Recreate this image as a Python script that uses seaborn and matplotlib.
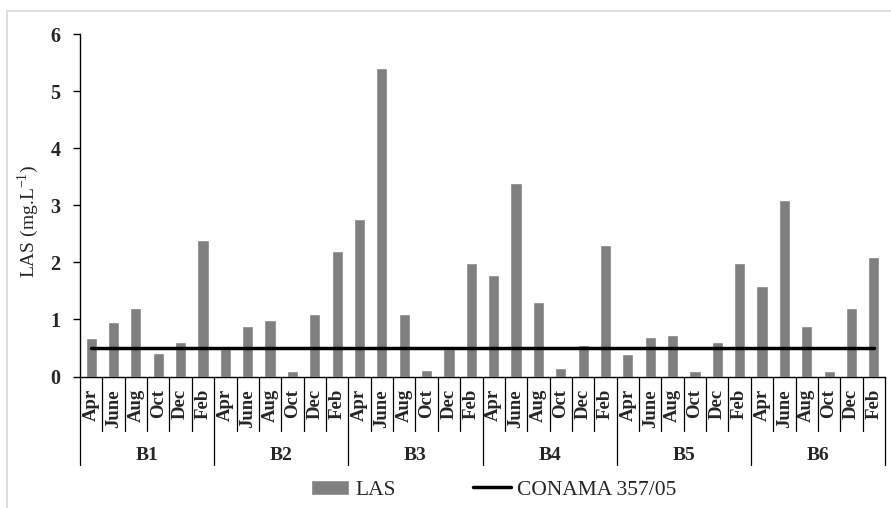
import matplotlib
matplotlib.use("Agg")
import matplotlib.pyplot as plt
from matplotlib.lines import Line2D
import seaborn as sns
import pandas as pd
import numpy as np

# ---------------- data ----------------
sites = ["B1", "B2", "B3", "B4", "B5", "B6"]
months = ["Apr", "June", "Aug", "Oct", "Dec", "Feb"]
las_b1 = [0.67, 0.95, 1.20, 0.41, 0.61, 2.39]
las_b2 = [0.48, 0.89, 0.99, 0.10, 1.10, 2.20]
las_b3 = [2.76, 5.40, 1.09, 0.12, 0.48, 1.99]
las_b4 = [1.78, 3.39, 1.30, 0.15, 0.55, 2.30]
las_b5 = [0.40, 0.70, 0.72, 0.10, 0.60, 1.99]
las_b6 = [1.59, 3.10, 0.89, 0.10, 1.20, 2.09]
conama_limit = 0.5
y_ticks = [0, 1, 2, 3, 4, 5, 6]

series = [las_b1, las_b2, las_b3, las_b4, las_b5, las_b6]
rows = []
for s, vals in zip(sites, series):
    for m, v in zip(months, vals):
        rows.append({"site": s, "month": m, "cat": f"{s} {m}", "LAS": v,
                     "CONAMA": conama_limit})
df = pd.DataFrame(rows)

# ---------------- style ----------------
sns.set_theme(style="white")
plt.rcParams["font.family"] = ["Liberation Serif", "DejaVu Serif"]
plt.rcParams["mathtext.fontset"] = "custom"
plt.rcParams["mathtext.rm"] = "Liberation Serif"

W, H = 891, 508
fig = plt.figure(figsize=(W / 100, H / 100), dpi=100)
ax_left, ax_right, ax_top, ax_bot = 80, 885, 34, 376.5
ax = fig.add_axes([ax_left / W, 1 - ax_bot / H, (ax_right - ax_left) / W,
                   (ax_bot - ax_top) / H])
ax_h = ax_bot - ax_top

sns.barplot(data=df, x="cat", y="LAS", color="#808080", width=0.5,
            saturation=1, ax=ax, label="LAS", zorder=2)
sns.lineplot(data=df, x="cat", y="CONAMA", color="black", linewidth=2.5,
             ax=ax, label="CONAMA 357/05", zorder=3)

n = len(df)
ax.set_xlim(-0.5, n - 0.5)
ax.set_ylim(0, 6)
ax.set_yticks(y_ticks)
ax.set_yticklabels([str(t) for t in y_ticks], fontsize=14.5, fontweight="bold")
ax.tick_params(axis="y", direction="out", length=5, width=1, pad=9,
               left=True, color="black")
ax.tick_params(axis="x", bottom=False, labelbottom=False)
ax.set_xlabel("")
ax.set_ylabel("LAS (mg.L$^{-1}$)", fontsize=14)
ax.yaxis.set_label_coords((41 - ax_left) / (ax_right - ax_left),
                          (ax_bot - 222) / ax_h)
for side in ["top", "right"]:
    ax.spines[side].set_visible(False)
for side in ["left", "bottom"]:
    ax.spines[side].set_color("black")
    ax.spines[side].set_linewidth(1)
ax.grid(False)

# ---------------- multi-level category axis ----------------
trans = ax.get_xaxis_transform()
y_month_top = -(389 - ax_bot) / ax_h
y_month_sep = -(430.7 - ax_bot) / ax_h
y_group_sep = -(465 - ax_bot) / ax_h
y_group_lab = -(455 - ax_bot) / ax_h

for i, m in enumerate(df["month"]):
    ax.text(i, y_month_top, m, rotation=90, ha="center", va="top",
            fontsize=13.5, fontweight="bold", transform=trans, clip_on=False)
for i in range(n + 1):
    x = i - 0.5
    is_group = (i % len(months) == 0)
    ax.add_line(Line2D([x, x], [0, y_group_sep if is_group else y_month_sep],
                       transform=trans, color="black", lw=0.9,
                       clip_on=False))
for g, s in enumerate(sites):
    center = g * len(months) + (len(months) - 1) / 2
    ax.text(center, y_group_lab, s, ha="center", va="center",
            fontsize=14, fontweight="bold", transform=trans, clip_on=False)

# ---------------- legend ----------------
handles, labels = ax.get_legend_handles_labels()
order = [labels.index("LAS"), labels.index("CONAMA 357/05")]
handles = [handles[k] for k in order]
labels = [labels[k] for k in order]
if ax.get_legend() is not None:
    ax.get_legend().remove()
fig.legend(handles, labels, loc="center", bbox_to_anchor=(494 / W, 1 - 490 / H),
           ncol=2, frameon=False, fontsize=15.5, handlelength=1.75,
           handletextpad=0.3, columnspacing=3.6, borderaxespad=0)

# ---------------- figure border (top & left) ----------------
fig.add_artist(Line2D([7 / W, 1], [1 - 11 / H, 1 - 11 / H],
                      transform=fig.transFigure, color="#d9d9d9", lw=1.2))
fig.add_artist(Line2D([7 / W, 7 / W], [0, 1 - 11 / H],
                      transform=fig.transFigure, color="#d9d9d9", lw=1.2))

fig.savefig("out.png", dpi=100)
